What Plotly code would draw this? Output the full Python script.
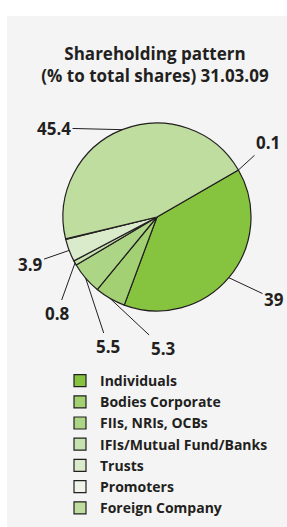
import math
import plotly.graph_objects as go

# ---- data ----
categories = ["Individuals", "Bodies Corporate", "FIIs, NRIs, OCBs",
              "IFIs/Mutual Fund/Banks", "Trusts", "Promoters", "Foreign Company"]
values = [39, 5.3, 5.5, 0.8, 3.9, 0.1, 45.4]
value_labels = ["39", "5.3", "5.5", "0.8", "3.9", "0.1", "45.4"]
title_lines = ["Shareholding pattern", "(% to total shares) 31.03.09"]

# ---- style / layout ----
colors = ["#86c440", "#a2d073", "#acd585", "#c6e2ae", "#d9ebcb", "#eef5e8", "#bedd9f"]
W, H = 287, 527
CX, CY, R = 157, 217, 94
ROTATION = 60
INK = "#231f20"
FONT = "Open Sans"
# label text centres (pixels) and whether the leader goes to the slice start boundary
label_xy = [(274, 299), (163, 348), (108, 346), (57, 313), (30, 264), (268, 143), (54, 128)]
anchor_at_start = [False, False, False, False, False, True, False]

fig = go.Figure()
fig.add_trace(go.Pie(
    labels=categories, values=values, sort=False, direction="clockwise",
    rotation=ROTATION, textinfo="none", hoverinfo="label+value",
    marker=dict(colors=colors, line=dict(color=INK, width=1.2)),
    domain=dict(x=[(CX - R) / W, (CX + R) / W], y=[1 - (CY + R) / H, 1 - (CY - R) / H]),
))

# leader-line labels, anchored from data-derived slice angles
total = sum(values)
cum = 0.0
annotations = []
for v, txt, (lx, ly), at_start in zip(values, value_labels, label_xy, anchor_at_start):
    mid = ROTATION + (cum + v / 2) / total * 360
    cum += v
    ang = math.radians(ROTATION if at_start else mid)
    px = CX + R * math.sin(ang)
    py = CY - R * math.cos(ang)
    annotations.append(dict(
        x=px / W, y=1 - py / H, xref="paper", yref="paper",
        ax=lx - px, ay=ly - py, axref="pixel", ayref="pixel",
        text=txt, showarrow=True, arrowhead=0, arrowwidth=1, arrowcolor=INK, standoff=0,
        font=dict(family=FONT, size=17, color=INK, weight="bold"),
    ))

fig.update_layout(
    width=W, height=H, margin=dict(l=0, r=0, t=0, b=0),
    paper_bgcolor="white", plot_bgcolor="white",
    title=dict(text="<br>".join(title_lines), x=155 / W, xanchor="center",
               xref="container", yref="container",
               y=1 - 60 / H, yanchor="middle",
               font=dict(family=FONT, size=17, color=INK, weight="bold")),
    showlegend=True,
    legend=dict(x=60 / W, y=1 - 365 / H, xanchor="left", yanchor="top",
                bgcolor="rgba(0,0,0,0)", traceorder="normal",
                font=dict(family=FONT, size=14, color=INK, weight="bold")),
    annotations=annotations,
    shapes=[dict(type="rect", xref="paper", yref="paper", layer="below",
                 x0=7 / W, x1=1, y0=0, y1=1 - 16 / H,
                 fillcolor="#f4f4f4", line=dict(width=0))],
)

fig.write_html("out.html", config={"displayModeBar": False},
               post_script="document.body.style.margin='0';document.body.style.overflow='hidden';")
